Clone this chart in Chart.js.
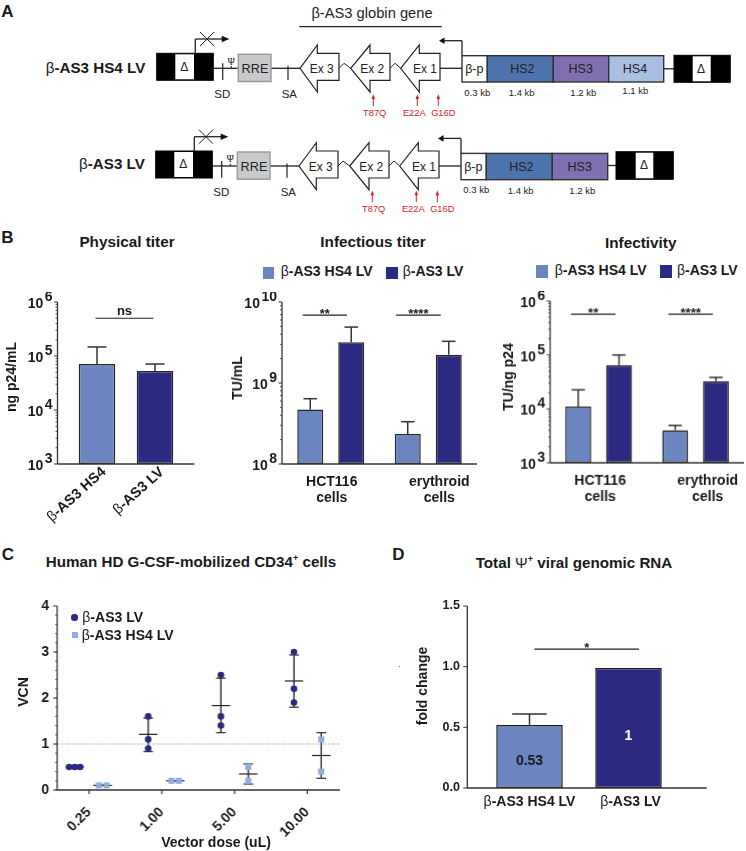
<!DOCTYPE html>
<html>
<head>
<meta charset="utf-8">
<script src="https://cdn.jsdelivr.net/npm/chart.js@4"></script>
<style>
  html, body { margin: 0; padding: 0; background: #fff; }
  #page { position: relative; width: 746px; height: 851px; overflow: hidden; font-family: "Liberation Sans", Arial, sans-serif; color: #1a1a1a; }
  #page canvas { position: absolute; }
  #page svg { position: absolute; left: 0; top: 0; }
  .txt { position: absolute; white-space: nowrap; line-height: 1; }
  .beta { font-weight: 400; }
</style>
</head>
<body>
<div id="page"></div>
<script>
const HS4_COLOR = '#6a85bf';
const LV_COLOR = '#2b2a80';
const HS4_LIGHT = '#93acdc';
const INK = '#1a1a1a';
const AXIS = '#333333';

// Physical titer
const physLabels = ['-AS3 HS4', '-AS3 LV'];
const physValues = [7.1e4, 5.3e4];
const physErrors = [1.47e5, 7.1e4];

// Infectious titer
const cellLabels = [['HCT116', 'cells'], ['erythroid', 'cells']];
const titerHs4 = [4.7e8, 2.35e8];
const titerHs4Err = [6.4e8, 3.33e8];
const titerLv = [3.18e9, 2.24e9];
const titerLvErr = [4.9e9, 3.27e9];

// Infectivity
const infHs4 = [1.11e4, 4.05e3];
const infHs4Err = [2.26e4, 4.94e3];
const infLv = [6.5e4, 3.28e4];
const infLvErr = [1.0e5, 3.84e4];

// VCN, x is the dose position plus the jitter of each point
const doseLabels = ['0.25', '1.00', '5.00', '10.00'];
const lvX = [-0.275, -0.197, -0.124, 0.812, 0.812, 0.812, 1.812, 1.812, 1.812, 2.817, 2.817, 2.817];
const lvY = [0.5, 0.5, 0.5, 1.6, 1.1, 0.9, 2.5, 1.6, 1.4, 3.0, 2.2, 1.9];
const hs4X = [0.133, 0.239, 1.133, 1.234, 2.188, 2.188, 3.192, 3.192];
const hs4Y = [0.1, 0.1, 0.2, 0.2, 0.5, 0.2, 1.1, 0.4];
const lvStatX = [-0.197, 0.812, 1.812, 2.817];
const lvMean = [0.5, 1.21, 1.835, 2.37];
const lvHigh = [0.5, 1.565, 2.43, 2.935];
const lvLow = [0.5, 0.835, 1.247, 1.8];
const hs4StatX = [0.186, 1.184, 2.188, 3.192];
const hs4Mean = [0.1, 0.2, 0.348, 0.75];
const hs4High = [0.1, 0.2, 0.565, 1.247];
const hs4Low = [0.1, 0.2, 0.13, 0.254];

// Genomic RNA
const rnaLabels = ['-AS3 HS4 LV', '-AS3 LV'];
const rnaValues = [0.52, 0.99];
const rnaErrors = [0.61, null];
const rnaText = ['0.53', '1'];
const rnaTextY = [0.22, 0.43];

const page = document.getElementById('page');

function addText(html, x, y, opts = {}) {
    const { size = 14, weight = 'bold', anchor = 'center', rotate = 0, color = INK } = opts;
    const el = document.createElement('div');
    el.className = 'txt';
    el.innerHTML = html;
    const tx = anchor === 'left' ? '0' : '-50%';
    el.style.cssText = `left:${x}px;top:${y}px;font-size:${size}px;font-weight:${weight};color:${color};transform:translate(${tx},-50%) rotate(${rotate}deg)`;
    page.appendChild(el);
}

function addSwatch(x, y, w, h, color, round) {
    const el = document.createElement('div');
    el.style.cssText = `position:absolute;left:${x}px;top:${y}px;width:${w}px;height:${h}px;background:${color};border-radius:${round ? '50%' : '0'}`;
    page.appendChild(el);
}

const betaName = s => `<span class="beta">β</span>${s}`;

// Draws "β" light and the rest bold, starting or centred at x
function drawBeta(ctx, rest, x, y, size, align) {
    ctx.font = `400 ${size}px "Liberation Sans"`;
    const bw = ctx.measureText('β').width;
    ctx.font = `700 ${size}px "Liberation Sans"`;
    const rw = ctx.measureText(rest).width;
    const total = bw + rw;
    const start = align === 'right' ? x - total : align === 'center' ? x - total / 2 : x;
    ctx.textAlign = 'left';
    ctx.textBaseline = 'middle';
    ctx.fillStyle = INK;
    ctx.font = `400 ${size}px "Liberation Sans"`;
    ctx.fillText('β', start, y);
    ctx.font = `700 ${size}px "Liberation Sans"`;
    ctx.fillText(rest, start + bw, y);
}

function stroke(ctx, x1, y1, x2, y2, color, width) {
    ctx.strokeStyle = color;
    ctx.lineWidth = width;
    ctx.beginPath();
    ctx.moveTo(x1, y1);
    ctx.lineTo(x2, y2);
    ctx.stroke();
}

// Axes, error bars and significance bars are not in Chart.js, so they go in one plugin
function panelPlugin(cfg) {
    return {
        id: 'panel',
        beforeDatasetsDraw(chart) {
            if (cfg.beforeMarks) cfg.beforeMarks(chart);
        },
        afterDatasetsDraw(chart) {
            const ctx = chart.ctx;
            const area = chart.chartArea;
            const yScale = chart.scales.y;
            const xScale = chart.scales.x;
            const left = area.left - (cfg.gapL || 0);
            const right = area.right + (cfg.gapR || 0);
            ctx.save();

            chart.data.datasets.forEach((ds, d) => {
                if (!ds.errorHigh) return;
                chart.getDatasetMeta(d).data.forEach((bar, i) => {
                    if (ds.errorHigh[i] == null) return;
                    const top = yScale.getPixelForValue(ds.errorHigh[i]);
                    const half = bar.width * 0.26;
                    stroke(ctx, bar.x, bar.y, bar.x, top, AXIS, 1.5);
                    stroke(ctx, bar.x - half, top, bar.x + half, top, AXIS, 1.5);
                });
            });

            // y axis
            stroke(ctx, left, area.top, left, area.bottom, AXIS, 1.3);
            stroke(ctx, left, area.bottom, right, area.bottom, AXIS, 1.6);
            if (cfg.logTicks) {
                const lo = Math.round(Math.log10(yScale.min));
                const hi = Math.round(Math.log10(yScale.max));
                for (let e = lo; e <= hi; e++) {
                    const py = yScale.getPixelForValue(Math.pow(10, e));
                    stroke(ctx, left - 3.5, py, left, py, AXIS, 1);
                    ctx.fillStyle = INK;
                    ctx.textBaseline = 'middle';
                    ctx.textAlign = 'right';
                    ctx.font = '700 14px "Liberation Sans"';
                    const sup = String(e);
                    const supX = left - 5;
                    ctx.fillText(sup, supX, py - 5);
                    ctx.fillText('10', supX - ctx.measureText(sup).width - 1.5, py + 2);
                    if (e === hi) continue;
                    for (let k = 2; k < 10; k++) {
                        const my = yScale.getPixelForValue(k * Math.pow(10, e));
                        stroke(ctx, left - 2, my, left, my, AXIS, 0.8);
                    }
                }
            } else {
                yScale.ticks.forEach(t => {
                    const py = yScale.getPixelForValue(t.value);
                    stroke(ctx, left - 4, py, left, py, AXIS, 1);
                });
                if (cfg.yMinorStep) {
                    for (let v = yScale.min; v < yScale.max; v += cfg.yMinorStep) {
                        const py = yScale.getPixelForValue(v);
                        stroke(ctx, left - 2, py, left, py, AXIS, 0.8);
                    }
                }
            }
            if (cfg.xTickMarks) {
                xScale.ticks.forEach(t => {
                    const px = xScale.getPixelForValue(t.value);
                    stroke(ctx, px, area.bottom, px, area.bottom + 4, AXIS, 1.2);
                });
            }

            (cfg.brackets || []).forEach(b => {
                const py = yScale.getPixelForValue(b.value);
                stroke(ctx, xScale.getPixelForValue(b.from), py, xScale.getPixelForValue(b.to), py, '#222222', 1.2);
                ctx.fillStyle = INK;
                ctx.font = '700 13px "Liberation Sans"';
                ctx.textAlign = 'center';
                ctx.textBaseline = 'alphabetic';
                const mid = (xScale.getPixelForValue(b.from) + xScale.getPixelForValue(b.to)) / 2;
                ctx.fillText(b.label, mid, py + (b.label === 'ns' ? -3 : 3));
            });

            if (cfg.afterMarks) cfg.afterMarks(chart);
            ctx.restore();
        }
    };
}

// area is the plot box in page pixels, margins are the room around it for the axes
function makeChart(area, margins, config, cfg) {
    const [l, t, r, b] = area;
    const [ml, mt, mr, mb] = margins;
    const canvas = document.createElement('canvas');
    const w = r - l + ml + mr;
    const h = b - t + mt + mb;
    canvas.width = w;
    canvas.height = h;
    canvas.style.cssText = `left:${l - ml}px;top:${t - mt}px;width:${w}px;height:${h}px`;
    page.appendChild(canvas);
    config.options = Object.assign({
        responsive: false,
        animation: false,
        layout: { autoPadding: false, padding: { top: mt, right: mr, left: 0, bottom: 0 } },
        plugins: { legend: { display: false }, tooltip: { enabled: false } }
    }, config.options);
    config.options.scales.x.afterFit = s => { s.height = mb; };
    config.options.scales.y.afterFit = s => { s.width = ml; };
    config.plugins = [panelPlugin(cfg)];
    return new Chart(canvas.getContext('2d'), config);
}

function hiddenAxis(extra) {
    return Object.assign({ grid: { display: false }, border: { display: false }, ticks: { display: false } }, extra);
}

function cellLabelsPlugin(nudge) {
    return chart => {
        const ctx = chart.ctx;
        ctx.fillStyle = INK;
        ctx.font = '700 14px "Liberation Sans"';
        ctx.textAlign = 'center';
        ctx.textBaseline = 'middle';
        cellLabels.forEach((lines, i) => {
            const px = chart.scales.x.getPixelForValue(i) + nudge[i];
            lines.forEach((line, j) => ctx.fillText(line, px, chart.chartArea.bottom + 18 + j * 16.5));
        });
    };
}

function groupedBars(hs4, hs4Err, lv, lvErr) {
    const common = { borderColor: '#262626', borderWidth: 1.5, borderSkipped: false, categoryPercentage: 0.841, barPercentage: 0.634 };
    return {
        type: 'bar',
        data: {
            labels: cellLabels,
            datasets: [
                Object.assign({ label: 'β-AS3 HS4 LV', data: hs4, errorHigh: hs4Err, backgroundColor: HS4_COLOR }, common),
                Object.assign({ label: 'β-AS3 LV', data: lv, errorHigh: lvErr, backgroundColor: LV_COLOR }, common)
            ]
        }
    };
}

/* ---------- Panel B ---------- */
makeChart([67.5, 302, 183.5, 464], [60, 10, 20, 70], {
    type: 'bar',
    data: {
        labels: physLabels,
        datasets: [{
            label: 'Physical titer',
            data: physValues,
            errorHigh: physErrors,
            backgroundColor: [HS4_COLOR, LV_COLOR],
            borderColor: '#262626',
            borderWidth: 1.5,
            borderSkipped: false,
            categoryPercentage: 1,
            barPercentage: 0.63
        }]
    },
    options: { scales: { x: hiddenAxis(), y: hiddenAxis({ type: 'logarithmic', min: 1e3, max: 1e6 }) } }
}, {
    gapL: 10.5, gapR: 10.5, logTicks: true,
    brackets: [{ from: -0.026, to: 0.974, value: 5e5, label: 'ns' }],
    afterMarks(chart) {
        const ctx = chart.ctx;
        physLabels.forEach((label, i) => {
            ctx.save();
            ctx.translate(chart.scales.x.getPixelForValue(i) + 7, chart.chartArea.bottom + 6);
            ctx.rotate(-42 * Math.PI / 180);
            drawBeta(ctx, label, 0, 0, 14.5, 'right');
            ctx.restore();
        });
    }
});

let titerConfig = groupedBars(titerHs4, titerHs4Err, titerLv, titerLvErr);
titerConfig.options = { scales: { x: hiddenAxis(), y: hiddenAxis({ type: 'logarithmic', min: 1e8, max: 1e10 }) } };
makeChart([282, 302, 477, 464], [40, 10, 10, 50], titerConfig, {
    logTicks: true,
    brackets: [
        { from: -0.288, to: 0.167, value: 6.9e9, label: '**' },
        { from: 0.669, to: 1.128, value: 6.9e9, label: '****' }
    ],
    afterMarks: cellLabelsPlugin([1, 11])
});

let infConfig = groupedBars(infHs4, infHs4Err, infLv, infLvErr);
infConfig.options = { scales: { x: hiddenAxis(), y: hiddenAxis({ type: 'logarithmic', min: 1e3, max: 1e6 }) } };
makeChart([550.3, 301, 744, 462.7], [40, 10, 2, 50], infConfig, {
    logTicks: true,
    brackets: [
        { from: -0.285, to: 0.174, value: 5.67e5, label: '**' },
        { from: 0.72, to: 1.179, value: 5.67e5, label: '****' }
    ],
    afterMarks: cellLabelsPlugin([1.5, 12])
});

/* ---------- Panel C ---------- */
const xMin = -0.44;
const xMax = 3.45;
const toPoints = (xs, ys) => xs.map((x, i) => ({ x: x, y: ys[i] }));

function drawSpreads(chart, xs, means, highs, lows) {
    const { x, y } = chart.scales;
    const ctx = chart.ctx;
    xs.forEach((v, i) => {
        const px = x.getPixelForValue(v);
        const hi = y.getPixelForValue(highs[i]);
        const lo = y.getPixelForValue(lows[i]);
        const m = y.getPixelForValue(means[i]);
        stroke(ctx, px, hi, px, lo, '#3a3a3a', 1.5);
        stroke(ctx, px - 4.8, hi, px + 4.8, hi, '#3a3a3a', 1.3);
        stroke(ctx, px - 4.8, lo, px + 4.8, lo, '#3a3a3a', 1.3);
        stroke(ctx, px - 9.2, m, px + 9.2, m, '#222222', 1.2);
    });
}

makeChart([57.3, 605.7, 340, 789.7], [50, 10, 6, 50], {
    type: 'scatter',
    data: {
        datasets: [
            {
                label: 'threshold',
                data: toPoints([xMin, xMax], [1, 1]),
                showLine: true,
                pointRadius: 0,
                borderColor: '#8a8a8a',
                borderWidth: 1,
                borderDash: [1, 1.5]
            },
            {
                label: 'β-AS3 LV',
                data: toPoints(lvX, lvY),
                pointStyle: 'circle',
                pointRadius: 3.3,
                backgroundColor: LV_COLOR,
                borderWidth: 0
            },
            {
                label: 'β-AS3 HS4 LV',
                data: toPoints(hs4X, hs4Y),
                pointStyle: 'rect',
                pointRadius: 4.3,
                backgroundColor: HS4_LIGHT,
                borderWidth: 0
            }
        ]
    },
    options: {
        scales: {
            x: {
                type: 'linear',
                min: xMin,
                max: xMax,
                grid: { display: false },
                border: { display: false },
                afterBuildTicks: s => { s.ticks = doseLabels.map((_, i) => ({ value: i })); },
                ticks: {
                    callback: v => doseLabels[v],
                    minRotation: 45,
                    maxRotation: 45,
                    padding: 6,
                    color: INK,
                    font: { family: 'Liberation Sans', size: 14, weight: 'bold' }
                }
            },
            y: {
                min: 0,
                max: 4,
                grid: { display: false },
                border: { display: false },
                afterBuildTicks: s => { s.ticks = [0, 1, 2, 3, 4].map(v => ({ value: v })); },
                ticks: { padding: 0, color: INK, font: { family: 'Liberation Sans', size: 14, weight: 'bold' } }
            }
        }
    }
}, {
    yMinorStep: 0.2,
    xTickMarks: true,
    beforeMarks(chart) {
        drawSpreads(chart, lvStatX, lvMean, lvHigh, lvLow);
        drawSpreads(chart, hs4StatX, hs4Mean, hs4High, hs4Low);
    }
});

/* ---------- Panel D ---------- */
makeChart([480, 605.7, 678, 788.3], [60, 10, 30, 30], {
    type: 'bar',
    data: {
        labels: rnaLabels,
        datasets: [{
            label: 'fold change',
            data: rnaValues,
            errorHigh: rnaErrors,
            backgroundColor: [HS4_COLOR, LV_COLOR],
            borderColor: '#1c1c1c',
            borderWidth: 1.5,
            borderSkipped: false,
            categoryPercentage: 1,
            barPercentage: 0.672
        }]
    },
    options: {
        scales: {
            x: hiddenAxis(),
            y: {
                min: 0,
                max: 1.5,
                // tickLength moves the labels clear of the axis, ticks.padding would also shrink the plot
                grid: { display: false, tickLength: 20 },
                border: { display: false },
                afterBuildTicks: s => { s.ticks = [0, 0.5, 1, 1.5].map(v => ({ value: v })); },
                ticks: {
                    callback: v => v.toFixed(1),
                    padding: 0,
                    color: INK,
                    font: { family: 'Liberation Sans', size: 12.5, weight: 'bold' }
                }
            }
        }
    }
}, {
    gapL: 12.7, gapR: 28.7,
    brackets: [{ from: 0.05, to: 1.106, value: 1.145, label: '*' }],
    afterMarks(chart) {
        const ctx = chart.ctx;
        rnaLabels.forEach((label, i) => {
            drawBeta(ctx, label, chart.scales.x.getPixelForValue(i) + (i ? 2 : 0), chart.chartArea.bottom + 14, 14, 'center');
        });
        ctx.font = '700 14px "Liberation Sans"';
        ctx.textAlign = 'center';
        ctx.textBaseline = 'middle';
        rnaText.forEach((text, i) => {
            ctx.fillStyle = i ? '#ffffff' : INK;
            ctx.fillText(text, chart.scales.x.getPixelForValue(i), chart.scales.y.getPixelForValue(rnaTextY[i]));
        });
    }
});

/* ---------- Titles, legends, axis titles ---------- */
addText('A', 7.5, 11, { size: 17 });
addText('B', 7.5, 237, { size: 17 });
addText('C', 8, 554, { size: 17 });
addText('D', 398.5, 554, { size: 17 });

addText('Physical titer', 127, 242, { size: 15.3 });
addText('Infectious titer', 373, 242, { size: 15.3 });
addText('Infectivity', 640.7, 243, { size: 15.3 });
addText('Human HD G-CSF-mobilized CD34<sup style="font-size:9px;line-height:0">+</sup> cells', 191, 561.5, { size: 15.2 });
addText('Total <span class="beta">Ψ</span><sup style="font-size:9px;line-height:0">+</sup> viral genomic RNA', 574, 562.5, { size: 15.2 });

addSwatch(262.7, 266.7, 11.5, 12.5, HS4_COLOR);
addText(betaName('-AS3 HS4 LV'), 280.7, 271, { size: 14, anchor: 'left' });
addSwatch(386, 266.7, 11.5, 12.5, LV_COLOR);
addText(betaName('-AS3 LV'), 402.7, 271, { size: 14, anchor: 'left' });

addSwatch(536.3, 265, 11.5, 12.5, HS4_COLOR);
addText(betaName('-AS3 HS4 LV'), 554.7, 270, { size: 14, anchor: 'left' });
addSwatch(660, 265, 11.5, 12.5, LV_COLOR);
addText(betaName('-AS3 LV'), 677, 270, { size: 14, anchor: 'left' });

addSwatch(71, 614, 6.6, 6.6, LV_COLOR, true);
addText(betaName('-AS3 LV'), 82.3, 617, { size: 14, anchor: 'left' });
addSwatch(71.7, 631.7, 6, 6, HS4_LIGHT);
addText(betaName('-AS3 HS4 LV'), 81.7, 634.5, { size: 14, anchor: 'left' });

addText('ng p24/mL', 10.5, 377, { size: 14, rotate: -90 });
addText('TU/mL', 237, 378, { size: 14, rotate: -90 });
addText('TU/ng p24', 507.5, 377, { size: 14, rotate: -90 });
addText('VCN', 23, 691.7, { size: 14, rotate: -90 });
addText('Vector dose (uL)', 216, 841.7, { size: 14 });
addText('fold change', 421.7, 685.7, { size: 14, rotate: -90 });
addSwatch(398.5, 665.5, 1, 1, '#777777');

/* ---------- Panel A, vector maps ---------- */
const NS = 'http://www.w3.org/2000/svg';
const svg = document.createElementNS(NS, 'svg');
svg.setAttribute('width', 746);
svg.setAttribute('height', 225);
page.appendChild(svg);

function el(tag, attrs, text) {
    const node = document.createElementNS(NS, tag);
    Object.keys(attrs).forEach(k => node.setAttribute(k, attrs[k]));
    if (text) node.textContent = text;
    svg.appendChild(node);
    return node;
}
const line = (x1, y1, x2, y2, w = 1.3, color = '#222') => el('line', { x1, y1, x2, y2, stroke: color, 'stroke-width': w });
const rect = (x, y, w, h, fill, edge = '#333', sw = 1.4) => el('rect', { x, y, width: w, height: h, fill, stroke: edge, 'stroke-width': sw });
function label(text, x, y, size, fill = '#222') {
    return el('text', { x, y, 'font-size': size, 'text-anchor': 'middle', 'dominant-baseline': 'central', fill, 'font-family': 'Liberation Sans' }, text);
}

function drawLtr(x, y, w, h, whiteFrom, whiteTo, dx, dy) {
    rect(x, y, w, h, '#000', '#000', 1);
    el('rect', { x: whiteFrom, y: y + 1, width: whiteTo - whiteFrom, height: h - 2, fill: '#fff' });
    label('Δ', dx, dy, 12);
}

function drawExon(text, tip, headX, end, cy, textX) {
    const top = cy - 15;
    const bottom = cy + 12;
    el('polygon', {
        points: `${tip},${cy} ${headX},${cy - 23.3} ${headX},${top} ${end},${top} ${end},${bottom} ${headX},${bottom} ${headX},${cy + 23.7}`,
        fill: '#fff', stroke: '#222', 'stroke-width': 1.2
    });
    label(text, textX, cy + 0.7, 12);
}

function drawConstruct(dx, dy, withHs4, rightLtr, redDy) {
    const cy = 68.3 + dy;
    line(213 + dx, cy, 238.3 + dx, cy);
    line(271 + dx, cy, 300 + dx, cy);
    line(440 + dx, cy, 462 + dx, cy);

    drawLtr(156.7 + dx, 53.3 + dy, 56.6, 27, 175.3 + dx, 194 + dx, 184.3 + dx, 66.7 + dy);
    line(195.3 + dx, 53.3 + dy, 195.3 + dx, 39 + dy);
    line(195.3 + dx, 39 + dy, 222 + dx, 39 + dy);
    el('polygon', { points: `${229.3 + dx},${39 + dy} ${221.7 + dx},${35.7 + dy} ${221.7 + dx},${42.3 + dy}`, fill: '#111' });
    line(200 + dx, 32 + dy, 214 + dx, 46 + dy, 1);
    line(214 + dx, 32 + dy, 200 + dx, 46 + dy, 1);

    line(222.7 + dx, 63.3 + dy, 222.7 + dx, 80 + dy, 1.2);
    line(231.3 + dx, 66 + dy, 231.3 + dx, 68.3 + dy, 1);
    el('text', { x: 231.3 + dx, y: 61 + dy, 'font-size': 10, 'text-anchor': 'middle', 'dominant-baseline': 'central', fill: '#222', 'font-family': 'Liberation Serif' }, 'Ψ');
    label('SD', 222.3 + dx, 94.3 + dy, 11.5);
    rect(238.3 + dx, 54.3 + dy, 32.7, 27.2, '#c8c9cb', '#999');
    label('RRE', 255 + dx, 69 + dy, 12.7);
    line(288 + dx, 65.7 + dy, 288 + dx, 80 + dy, 1.2);
    label('SA', 289.3 + dx, 94.3 + dy, 11.5);

    drawExon('Ex 3', 300 + dx, 317.3 + dx, 339 + dx, cy, 321.7 + dx);
    line(339 + dx, cy, 344 + dx, cy - 5, 1);
    line(344 + dx, cy - 5, 350.7 + dx, cy, 1);
    drawExon('Ex 2', 350.7 + dx, 370 + dx, 390 + dx, cy, 372.3 + dx);
    line(390 + dx, cy, 395 + dx, cy - 5, 1);
    line(395 + dx, cy - 5, 400.7 + dx, cy, 1);
    drawExon('Ex 1', 400.7 + dx, 419.3 + dx, 440 + dx, cy, 425 + dx);

    line(462 + dx, 55.7 + dy, 462 + dx, 40.7 + dy, 1.3);
    line(462 + dx, 40.7 + dy, 444 + dx, 40.7 + dy, 1.3);
    el('polygon', { points: `${439 + dx},${40.7 + dy} ${444.5 + dx},${37.4 + dy} ${444.5 + dx},${44 + dy}`, fill: '#111' });

    rect(462 + dx, 55.7 + dy, 25.3, 26.3, '#fff');
    label('β-p', 474.3 + dx, 69 + dy, 12.5);
    rect(487.3 + dx, 55.7 + dy, 66, 26.3, '#4e74ad');
    label('HS2', 522.3 + dx, 69 + dy, 12.5);
    rect(553.3 + dx, 55.7 + dy, 55.4, 26.3, '#7f6fb0');
    label('HS3', 580.7 + dx, 69 + dy, 12.5);
    if (withHs4) {
        rect(608.7 + dx, 55.7 + dy, 55, 26.3, '#a9bfe2');
        label('HS4', 635 + dx, 69 + dy, 12.5);
        line(663.7, cy + 0.5, 674, cy + 0.5);
    } else {
        line(608, cy - 0.5, 616, cy - 0.5);
    }
    drawLtr(...rightLtr);

    label('0.3 kb', 477.3 + dx, 92 + dy, 9.5);
    label('1.4 kb', 521.7 + dx, 92.7 + dy, 9.5);
    label('1.2 kb', 583.3 + dx, 92.7 + dy, 9.5);
    if (withHs4) label('1.1 kb', 635.3, 90.3, 9.5);

    const red = '#d2232a';
    [[373.3, 374.7, 'T87Q'], [417.3, 414.3, 'E22A'], [438.3, 443.3, 'G16D']].forEach(([ax, tx, name]) => {
        line(ax + dx, 106 + dy + redDy, ax + dx, 98 + dy + redDy, 1, red);
        el('polygon', { points: `${ax + dx},${94.3 + dy + redDy} ${ax - 1.8 + dx},${99 + dy + redDy} ${ax + 1.8 + dx},${99 + dy + redDy}`, fill: red });
        label(name, tx + dx, 113 + dy + redDy, 9.3, red);
    });
}

label('β-AS3 globin gene', 372, 13.3, 14.7);
line(299.3, 26.7, 441.7, 26.7, 1.2);
drawConstruct(0, 0, true, [674, 55.3, 56.3, 27, 692.7, 710.7, 701, 69.3], 0);
drawConstruct(-1, 97.7, false, [616, 151.7, 57.3, 27.6, 635.7, 653.3, 644, 165], -1.5);
addText(betaName('-AS3 HS4 LV'), 45.7, 67.7, { size: 15.2, anchor: 'left' });
addText(betaName('-AS3 LV'), 79, 164.3, { size: 15.2, anchor: 'left' });
</script>
</body>
</html>
